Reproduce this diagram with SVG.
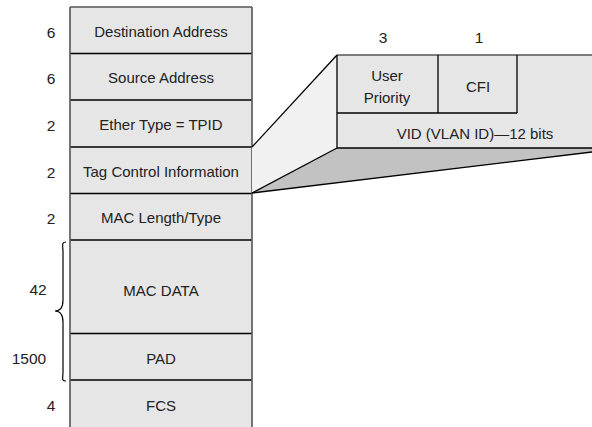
<svg xmlns="http://www.w3.org/2000/svg" width="592" height="427" viewBox="0 0 592 427">
<style>
.cell{fill:#e6e6e6;stroke:none}
.h{stroke:#000;stroke-width:1.3;fill:none}
.v{stroke:#555;stroke-width:1.6;fill:none}
.t{font-family:"Liberation Sans",Arial,sans-serif;font-size:15px;fill:#222;text-anchor:middle}
.n{font-family:"Liberation Sans",Arial,sans-serif;font-size:15.5px;fill:#222;text-anchor:middle}
</style>
<rect width="592" height="427" fill="#fff"/>
<g id="frame">
<rect class="cell" x="70" y="7" width="182" height="420"/>
</g>
<g id="dest"><text class="n" x="51" y="38">6</text><text class="t" x="161" y="37">Destination Address</text></g>
<g id="src"><line class="h" x1="70" y1="53.5" x2="252" y2="53.5"/><text class="n" x="51" y="84">6</text><text class="t" x="161" y="83">Source Address</text></g>
<g id="ethertype"><line class="h" x1="70" y1="100" x2="252" y2="100"/><text class="n" x="51" y="131">2</text><text class="t" x="161" y="130">Ether Type = TPID</text></g>
<g id="tci"><line class="h" x1="70" y1="147" x2="252" y2="147"/><text class="n" x="51" y="178">2</text><text class="t" x="161" y="177">Tag Control Information</text></g>
<g id="maclen"><line class="h" x1="70" y1="193.5" x2="252" y2="193.5"/><text class="n" x="51" y="224">2</text><text class="t" x="161" y="223">MAC Length/Type</text></g>
<g id="macdata"><line class="h" x1="70" y1="240" x2="252" y2="240"/><text class="t" x="161" y="296">MAC DATA</text></g>
<g id="pad"><line class="h" x1="70" y1="333.5" x2="252" y2="333.5"/><text class="t" x="161" y="364">PAD</text></g>
<g id="fcs"><line class="h" x1="70" y1="380" x2="252" y2="380"/><text class="n" x="51" y="411">4</text><text class="t" x="161" y="411">FCS</text></g>
<g id="column-edges">
<line class="v" x1="70" y1="7" x2="252" y2="7"/>
<line class="v" x1="70" y1="7" x2="70" y2="427"/>
<line class="v" x1="252" y1="7" x2="252" y2="427"/>
</g>
<g id="range">
<path d="M66,242 C61,242 63,246 63,252 L63,300 C63,308 60,311 55,311 C60,311 63,314 63,322 L63,372 C63,378 61,381 66,381" fill="none" stroke="#000" stroke-width="1.2"/>
<text class="n" x="38" y="295">42</text>
<text class="n" x="29" y="364">1500</text>
</g>
<g id="connectors">
<polygon points="252,147 337,55 337,148 252,193" fill="#f1f1f1"/>
<polygon points="337,148 592,148 592,152 252,193" fill="#c2c2c2"/>
<line class="h" x1="252" y1="147" x2="337" y2="55"/>
<line class="h" x1="252" y1="193" x2="337" y2="148"/>
<line class="h" x1="252" y1="193" x2="592" y2="152"/>
</g>
<g id="tag">
<rect class="cell" x="337" y="55" width="255" height="93"/>
<line class="v" x1="337" y1="55" x2="592" y2="55"/>
<line class="h" x1="337" y1="55" x2="337" y2="148"/>
<line class="h" x1="337" y1="148" x2="592" y2="148"/>
<line class="h" x1="337" y1="113" x2="517" y2="113"/>
<line class="h" x1="438" y1="55" x2="438" y2="113"/>
<line class="h" x1="517" y1="55" x2="517" y2="113"/>
<text class="n" x="383" y="43">3</text>
<text class="n" x="479" y="43">1</text>
<text class="t" x="387" y="81">User</text>
<text class="t" x="387" y="103">Priority</text>
<text class="t" x="478" y="92">CFI</text>
<text class="t" x="475" y="139">VID (VLAN ID)—12 bits</text>
</g>
</svg>
